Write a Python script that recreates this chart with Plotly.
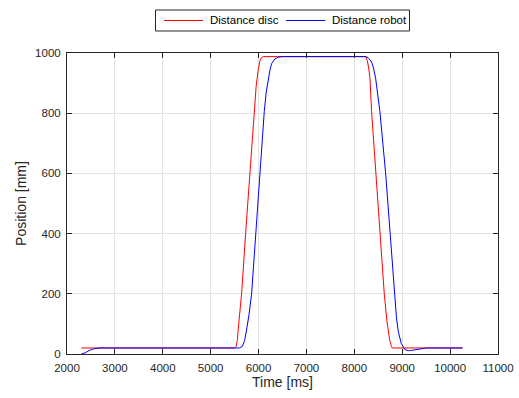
import plotly.graph_objects as go

# Distance disc (red)
disc_t = [2300, 5500, 5530, 5555, 5580, 5647, 5730, 5820, 5910, 5950, 5994, 6030, 6064, 6100,
          8240, 8270, 8300, 8326, 8361, 8445, 8534, 8624, 8680, 8708, 8740, 8770, 8792, 8830, 10260]
disc_mm = [20, 20, 25, 45, 90, 202, 401, 602, 805, 890, 945, 975, 985, 988,
           988, 975, 950, 916, 805, 602, 401, 202, 110, 75, 45, 28, 20, 20, 20]

# Distance robot (blue)
robot_t = [2300, 2380, 2480, 2580, 2690, 5600, 5660, 5710, 5760, 5800, 5856, 5939, 6029, 6119,
           6160, 6203, 6240, 6273, 6340, 6411, 6500,
           8250, 8300, 8361, 8400, 8445, 8534, 8653, 8743, 8833, 8880, 8917, 8980, 9056, 9130,
           9196, 9300, 9405, 9500, 10260]
robot_mm = [0, 4, 13, 18, 20, 20, 25, 45, 90, 130, 202, 401, 602, 805,
            870, 915, 945, 965, 980, 986, 988,
            988, 982, 970, 950, 916, 805, 602, 401, 202, 120, 75, 35, 15, 11,
            12, 15, 18, 20, 20]

x_ticks = [2000, 3000, 4000, 5000, 6000, 7000, 8000, 9000, 10000, 11000]
y_ticks = [0, 200, 400, 600, 800, 1000]

series_names = ["Distance disc", "Distance robot"]
series_colors = ["#ff0000", "#0000ff"]

FONT = "Liberation Sans, Arial, sans-serif"
INK = "#262626"

fig = go.Figure()
fig.add_trace(go.Scatter(x=disc_t, y=disc_mm, mode="lines", name=series_names[0],
                         line=dict(color=series_colors[0], width=1), showlegend=False))
fig.add_trace(go.Scatter(x=robot_t, y=robot_mm, mode="lines", name=series_names[1],
                         line=dict(color=series_colors[1], width=1), showlegend=False))

axis_common = dict(
    showline=True, linecolor=INK, linewidth=1, mirror="ticks",
    ticks="inside", ticklen=5, tickcolor=INK, tickwidth=1,
    showgrid=True, gridcolor="#e3e3e3", gridwidth=1, zeroline=False,
    automargin=False,
    tickfont=dict(family=FONT, size=11.5, color=INK),
)

fig.update_xaxes(range=[2000, 11000], tickvals=x_ticks, ticktext=[str(v) for v in x_ticks],
                 ticklabelstandoff=3,
                 title=dict(text="Time [ms]", font=dict(family=FONT, size=14, color=INK), standoff=4),
                 **axis_common)
fig.update_yaxes(range=[0, 1000], tickvals=y_ticks, ticktext=[str(v) for v in y_ticks],
                 ticklabelstandoff=3,
                 title=dict(text="Position [mm]", font=dict(family=FONT, size=14, color=INK), standoff=5),
                 **axis_common)

# Manual legend box (MATLAB-style compact legend above the axes)
L, R, T, B = 67, 498, 53, 354
def px(x):
    return (x - L) / (R - L)
def py(y):
    return (B - y) / (B - T)

shapes = [dict(type="rect", xref="paper", yref="paper",
               x0=px(155.5), x1=px(409.5), y0=py(31), y1=py(10),
               line=dict(color=INK, width=1), fillcolor="white", layer="above")]
legend_items = [(164, 203, 208), (286, 325, 329.5)]
annotations = []
for (lx0, lx1, tx), name, color in zip(legend_items, series_names, series_colors):
    shapes.append(dict(type="line", xref="paper", yref="paper",
                       x0=px(lx0), x1=px(lx1), y0=py(20.5), y1=py(20.5),
                       line=dict(color=color, width=1), layer="above"))
    annotations.append(dict(xref="paper", yref="paper", x=px(tx), y=py(20.5),
                            xanchor="left", yanchor="middle", showarrow=False,
                            text=name, font=dict(family=FONT, size=11.5, color="#000000")))

fig.update_layout(
    width=519, height=398,
    margin=dict(l=L, r=519 - R, t=T, b=398 - B),
    plot_bgcolor="white", paper_bgcolor="white",
    showlegend=False,
    shapes=shapes, annotations=annotations,
)

fig.write_html("out.html")
